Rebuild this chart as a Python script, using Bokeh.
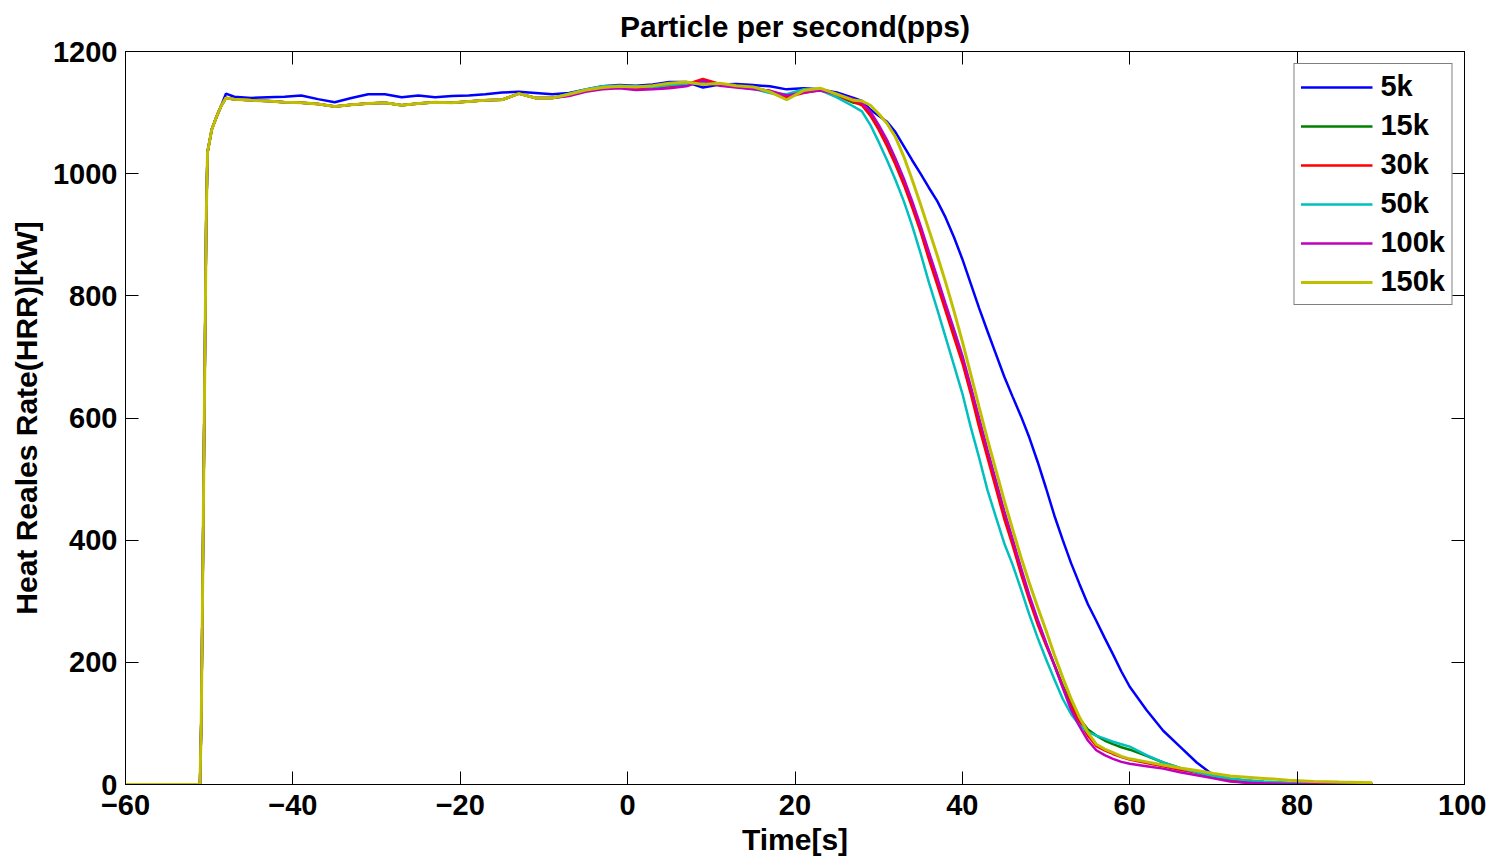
from bokeh.plotting import figure
from bokeh.models import Range1d, FixedTicker, LinearAxis
from bokeh.embed import file_html
from bokeh.resources import INLINE

# ---------------- data ----------------
t_rise = [-60, -51.1, -50.95, -50.8, -50.65, -50.5, -50.35, -50.2, -49.7, -49.1, -48.6, -48.0]
t_plateau = [-47, -45, -43, -41, -39, -37, -35, -33, -31, -29, -27, -25, -23, -21, -19,
             -17, -15, -13, -11, -9, -7, -5, -3, -1, 1, 3, 5, 7, 9, 11, 13, 15, 17, 19,
             21, 23, 25, 27]
t_decline = [28, 29, 30, 31, 32, 33, 34, 35, 36, 37, 38, 39, 40, 41, 42, 43, 44, 45, 46,
             47, 48, 49, 50, 51, 52, 53, 54, 55, 56, 57, 58, 59, 60,
             62, 64, 66, 68, 70, 72, 74, 76, 79, 82, 85, 89]

rise_common = [0, 0, 100, 300, 510, 720, 930, 1035, 1072, 1094, 1110]
rise_end_5k = [1131]
rise_end_bundle = [1124]

plateau_5k = [1126, 1124, 1125, 1126, 1128, 1122, 1117, 1124, 1130, 1130, 1125, 1128, 1125,
              1127, 1128, 1130, 1133, 1134, 1132, 1130, 1132, 1138, 1143, 1145, 1144, 1146,
              1150, 1150, 1141, 1146, 1147, 1145, 1143, 1138, 1140, 1138, 1133, 1124]
plateau_early_bundle = [1122, 1120, 1119, 1117, 1116, 1114, 1110, 1113, 1115, 1116, 1112,
                        1115, 1117, 1116, 1118, 1120, 1121, 1131, 1124, 1124]
plateau_late_15k = [1129, 1136, 1140, 1142, 1141, 1142, 1144, 1146, 1150, 1146, 1143, 1141,
                    1135, 1124, 1135, 1138, 1128, 1116]
plateau_late_30k = [1128, 1136, 1140, 1141, 1140, 1139, 1143, 1146, 1155, 1147, 1143, 1140,
                    1133, 1125, 1132, 1137, 1128, 1118]
plateau_late_50k = [1131, 1138, 1143, 1144, 1143, 1141, 1145, 1147, 1149, 1146, 1142, 1139,
                    1132, 1130, 1138, 1137, 1125, 1110]
plateau_late_100k = [1127, 1134, 1138, 1140, 1137, 1138, 1140, 1143, 1152, 1144, 1141, 1138,
                     1136, 1128, 1133, 1136, 1130, 1122]
plateau_late_150k = [1130, 1137, 1141, 1143, 1142, 1144, 1148, 1150, 1146, 1148, 1144, 1142,
                     1134, 1121, 1136, 1140, 1130, 1120]

decline_5k = [1119, 1105, 1095, 1085, 1068, 1045, 1022, 1000, 977, 955, 928, 896, 860, 820,
              780, 742, 705, 668, 635, 603, 568, 528, 485, 440, 400, 362, 328, 295, 268, 240,
              213, 185, 160, 122, 88, 62, 36, 15, 9, 6, 4, 2, 1, 0, 0]
decline_15k = [1114, 1098, 1076, 1050, 1020, 987, 950, 910, 866, 824, 781, 738, 696, 646, 592,
               541, 491, 441, 397, 350, 306, 266, 230, 196, 162, 132, 108, 90, 80, 72, 66, 61,
               57, 47, 36, 27, 20, 14, 9, 6, 4, 2, 1, 1, 0]
decline_30k = [1112, 1095, 1072, 1045, 1015, 982, 945, 905, 860, 818, 775, 732, 690, 640, 585,
               535, 485, 435, 392, 345, 302, 262, 228, 195, 160, 128, 103, 80, 63, 56, 50, 45,
               41, 35, 30, 24, 19, 12, 6, 3, 2, 1, 0, 0, 0]
decline_50k = [1102, 1080, 1052, 1022, 990, 955, 915, 870, 822, 778, 732, 686, 640, 585, 535,
               482, 438, 395, 360, 320, 278, 240, 205, 172, 140, 115, 97, 86, 80, 75, 70, 66,
               62, 48, 36, 27, 20, 14, 10, 7, 5, 3, 2, 1, 0]
decline_100k = [1116, 1102, 1080, 1055, 1025, 992, 955, 915, 872, 830, 787, 745, 702, 652, 600,
                548, 498, 448, 402, 355, 310, 270, 232, 195, 158, 122, 95, 72, 56, 48, 42, 37,
                34, 30, 26, 20, 15, 10, 5, 3, 2, 1, 1, 0, 0]
decline_150k = [1119, 1112, 1098, 1082, 1060, 1028, 990, 950, 908, 866, 822, 775, 725, 672,
                618, 565, 515, 465, 418, 372, 330, 290, 252, 212, 175, 140, 110, 85, 66, 58, 52,
                46, 42, 37, 32, 27, 23, 18, 14, 12, 10, 7, 5, 4, 3]

labels = ["5k", "15k", "30k", "50k", "100k", "150k"]
colors = ["#0000FF", "#008000", "#FF0000", "#00BFBF", "#BF00BF", "#BFBF00"]
title_text = "Particle per second(pps)"

time = t_rise + t_plateau + t_decline
series = [
    rise_common + rise_end_5k + plateau_5k + decline_5k,
    rise_common + rise_end_bundle + plateau_early_bundle + plateau_late_15k + decline_15k,
    rise_common + rise_end_bundle + plateau_early_bundle + plateau_late_30k + decline_30k,
    rise_common + rise_end_bundle + plateau_early_bundle + plateau_late_50k + decline_50k,
    rise_common + rise_end_bundle + plateau_early_bundle + plateau_late_100k + decline_100k,
    rise_common + rise_end_bundle + plateau_early_bundle + plateau_late_150k + decline_150k,
]

x_ticks = [-60, -40, -20, 0, 20, 40, 60, 80, 100]
y_ticks = [0, 200, 400, 600, 800, 1000, 1200]

# ---------------- figure ----------------
FONT = "Liberation Sans"
p = figure(width=1486, height=858, output_backend="svg", toolbar_location=None,
           x_range=Range1d(-60, 100), y_range=Range1d(0, 1200),
           min_border_left=125, min_border_right=22, min_border_top=51, min_border_bottom=73,
           title=title_text)
p.title.text_font = FONT
p.title.text_font_size = "30px"
p.title.text_font_style = "bold"
p.title.text_color = "black"
p.title.align = "center"
p.title.vertical_align = "top"
p.title.standoff = 14
p.xgrid.visible = False
p.ygrid.visible = False
p.outline_line_color = "black"
p.background_fill_color = "white"
p.border_fill_color = "white"

for ax in (p.xaxis[0], p.yaxis[0]):
    ax.major_label_text_font = FONT
    ax.major_label_text_font_size = "29px"
    ax.major_label_text_font_style = "bold"
    ax.major_label_text_color = "black"
    ax.axis_label_text_font = FONT
    ax.axis_label_text_font_size = "30px"
    ax.axis_label_text_font_style = "bold"
    ax.axis_label_text_color = "black"
    ax.major_tick_in = 13
    ax.major_tick_out = 0
    ax.minor_tick_line_color = None
    ax.axis_line_color = "black"
    ax.major_tick_line_color = "black"

p.xaxis[0].ticker = FixedTicker(ticks=x_ticks)
p.yaxis[0].ticker = FixedTicker(ticks=y_ticks)
p.xaxis[0].axis_label = "Time[s]"
p.yaxis[0].axis_label = "Heat Reales Rate(HRR)[kW]"
p.xaxis[0].major_label_standoff = 10
p.xaxis[0].axis_label_standoff = 5
p.yaxis[0].major_label_standoff = 8
p.yaxis[0].axis_label_standoff = 7

top_ax = LinearAxis(ticker=FixedTicker(ticks=x_ticks), major_tick_in=13, major_tick_out=0,
                    minor_tick_line_color=None, major_label_text_color=None,
                    major_label_text_font_size="1px", major_label_standoff=0)
right_ax = LinearAxis(ticker=FixedTicker(ticks=y_ticks), major_tick_in=13, major_tick_out=0,
                      minor_tick_line_color=None, major_label_text_color=None,
                      major_label_text_font_size="1px", major_label_standoff=0)
p.add_layout(top_ax, "above")
p.add_layout(right_ax, "right")

for lab, col, vals in zip(labels, colors, series):
    lw = 3 if lab == "150k" else 2.5
    p.line(time, vals, line_color=col, line_width=lw, legend_label=lab)

lg = p.legend[0]
lg.location = "top_right"
lg.margin = 12
lg.padding = 6
lg.spacing = 6
lg.label_height = 30
lg.glyph_height = 30
lg.glyph_width = 72
lg.label_standoff = 8
lg.label_text_font = FONT
lg.label_text_font_size = "29px"
lg.label_text_font_style = "bold"
lg.label_text_color = "black"
lg.border_line_color = "black"
lg.border_line_width = 1
lg.background_fill_alpha = 1

open("out.html", "w").write(file_html(p, INLINE))
